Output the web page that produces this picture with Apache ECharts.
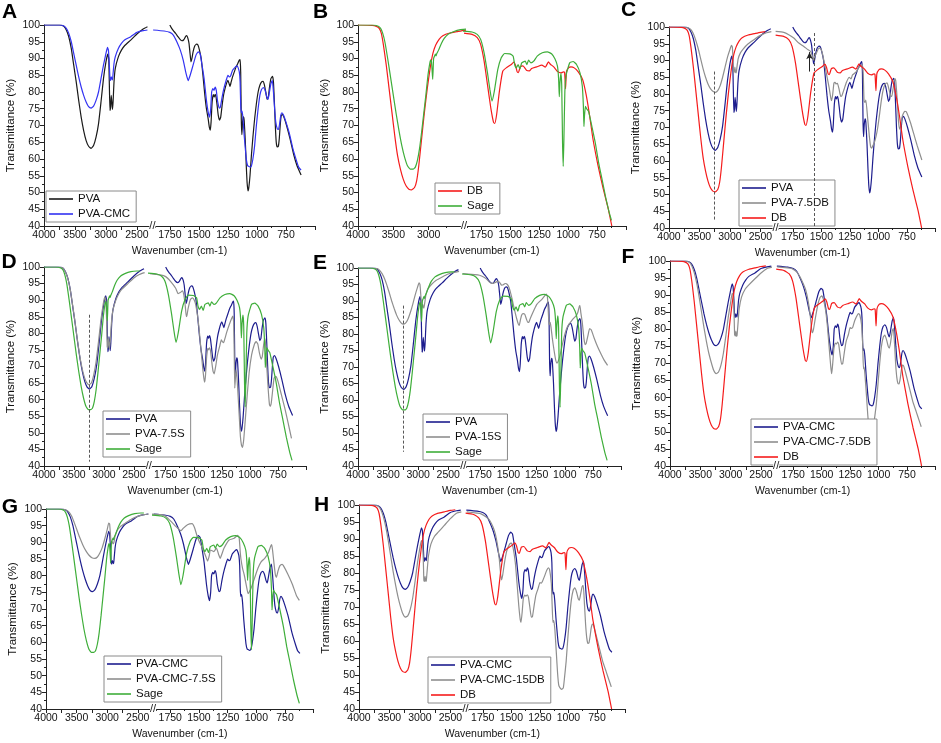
<!DOCTYPE html>
<html><head><meta charset="utf-8">
<script src="https://cdn.jsdelivr.net/npm/echarts@6/dist/echarts.min.js"></script>
<style>html,body{margin:0;padding:0;background:#fff}#c{width:941px;height:743px}</style>
</head><body><div id="c"></div>
<script>
// ---------------- DATA (wavenumber cm-1, transmittance %) ----------------
const yTicks = [40,45,50,55,60,65,70,75,80,85,90,95,100];
const leftTickLabels = [4000,3500,3000,2500];
const rightTickLabels = [1750,1500,1250,1000,750];

const PVA_hi = [[4000,100],[3750,100],[3680,99.6],[3640,98.5],[3600,96.5],[3560,93],[3520,88],[3480,83],[3440,77.5],[3400,72.5],[3360,68.5],[3320,65.5],[3280,63.8],[3240,63.2],[3200,64],[3160,66.5],[3120,70.5],[3080,77],[3040,84],[3000,89],[2970,91.3],[2955,90],[2945,82],[2935,74.5],[2925,75.5],[2915,79],[2905,77],[2895,74.8],[2885,77],[2870,83],[2850,87],[2800,90.5],[2750,92.5],[2700,93.8],[2600,95.5],[2500,97.3],[2400,98.8],[2330,99.5]];
const PVA_lo = [[1750,100],[1738,99.2],[1720,98.3],[1700,97.5],[1680,96.5],[1662,95.7],[1645,95.3],[1630,95.6],[1615,96.5],[1605,96.8],[1595,96.1],[1585,94.5],[1576,91.5],[1568,89],[1560,90],[1550,92],[1535,93.8],[1520,94.3],[1508,94],[1495,92.5],[1480,90],[1465,85],[1450,79.5],[1435,75],[1420,72],[1410,69.5],[1402,68.6],[1395,71],[1386,77],[1376,79.2],[1368,78.5],[1360,79.3],[1352,78.5],[1343,76],[1333,73],[1322,71.6],[1312,72.5],[1300,76],[1288,79],[1275,81],[1260,82.8],[1250,83.5],[1240,82.5],[1232,81.7],[1222,83],[1210,84.5],[1195,86],[1180,87.5],[1165,88.5],[1152,89.5],[1145,89.7],[1140,86],[1135,72],[1130,67.3],[1124,71],[1116,72.6],[1110,71.5],[1100,65],[1092,58],[1085,53],[1077,50.5],[1070,51.5],[1060,55],[1048,61],[1035,66.5],[1020,72],[1005,76.5],[990,80],[975,82],[960,83],[948,83.2],[935,82],[922,79.5],[912,77.8],[902,78.5],[892,81.5],[880,84],[866,84.7],[858,83],[850,77],[842,70],[834,65],[826,63.6],[816,63.8],[808,66],[800,70],[792,72.8],[782,73.3],[768,72.5],[745,70],[715,66],[685,61.5],[655,58],[620,55.2]];

const PVACMC_hi = [[4000,100],[3750,100],[3680,99.7],[3640,99],[3600,97.5],[3560,95],[3520,91.5],[3480,88],[3440,84.5],[3400,81.5],[3360,79],[3320,77],[3280,75.6],[3240,75.2],[3200,75.8],[3160,77.5],[3120,80],[3080,84],[3040,88],[3000,91.5],[2975,93.3],[2960,92.5],[2945,88],[2935,84],[2925,83.5],[2915,84.5],[2905,84],[2895,83.6],[2885,85.5],[2870,88.5],[2850,90.5],[2800,93],[2750,94.5],[2700,95.5],[2600,96.5],[2500,97.8],[2400,98.3],[2330,98.5]];
const PVACMC_lo = [[1894,98.5],[1800,98.2],[1750,97.8],[1720,97],[1690,95],[1660,92.5],[1635,89.5],[1610,85.5],[1592,83.4],[1575,85],[1550,88],[1525,91],[1506,92],[1490,91.5],[1475,88.5],[1455,84],[1435,77.5],[1420,74],[1408,72.5],[1398,75],[1390,80],[1380,81],[1370,80.5],[1360,81.5],[1350,80.5],[1340,77.5],[1325,75.2],[1315,75.5],[1300,78.5],[1285,81],[1265,83.5],[1250,85],[1238,84.5],[1227,84.8],[1210,86.5],[1190,87.3],[1175,87.8],[1165,87.5],[1152,86],[1145,83],[1140,76],[1135,73.8],[1128,74.3],[1120,72],[1110,67],[1100,63],[1090,59.5],[1080,58],[1070,57.8],[1058,57.6],[1048,57.9],[1035,60],[1020,64],[1005,70],[990,75],[975,79],[960,80.8],[945,81.3],[930,80.5],[915,78.5],[905,77.8],[895,79.5],[880,82.5],[868,83.5],[858,80],[848,75],[838,71],[825,69],[815,68.8],[805,70.5],[795,73],[785,73.8],[770,73],[750,71],[720,67.5],[690,63],[660,59.5],[640,57.5],[620,56.7]];

const DB_hi = [[4000,100],[3800,99.9],[3740,99.6],[3700,99],[3670,97.5],[3640,94],[3600,88],[3560,81],[3520,74],[3480,67],[3440,61],[3400,57],[3360,54],[3320,52],[3280,51],[3240,50.8],[3200,51.5],[3170,53.5],[3140,58],[3100,66],[3060,74],[3020,81],[2980,87],[2940,91.5],[2900,94],[2850,95.8],[2800,96.8],[2700,97.6],[2600,98],[2500,98.4],[2420,98.6]];
const DB_lo = [[1900,97.6],[1830,97.2],[1785,96.2],[1756,94.2],[1726,89.2],[1697,82.2],[1668,75.2],[1645,71],[1635,70.6],[1618,73.2],[1594,80.2],[1565,86.2],[1535,87.2],[1491,88.2],[1470,88.9],[1455,88],[1440,86],[1430,85.8],[1412,87.6],[1390,87.8],[1360,86.5],[1335,86.3],[1315,87],[1271,87.5],[1227,88],[1197,87.4],[1170,89],[1153,88.3],[1124,87.5],[1094,86.2],[1060,85.7],[1040,86],[1030,85.8],[1022,81],[1014,86],[995,87.3],[975,87.5],[947,87.2],[912,86],[874,83.7],[844,79.2],[815,73.2],[786,66.2],[742,58.2],[697,51.2],[653,45.2],[622,40]];

const Sage_hi = [[4000,100],[3800,100],[3720,99.7],[3680,99],[3650,97.5],[3620,95],[3580,90],[3540,84.5],[3500,79],[3460,73.5],[3420,68.5],[3380,64],[3340,60.5],[3300,58],[3260,57],[3220,57],[3190,57.5],[3160,59.5],[3130,63],[3100,68],[3070,73.5],[3040,79],[3010,85],[2985,88.5],[2970,89.6],[2960,89],[2950,86],[2943,83.8],[2937,86.5],[2930,90],[2915,90.8],[2905,91.3],[2895,90.8],[2885,91.5],[2860,92.5],[2820,94.5],[2780,96],[2720,97.3],[2650,98],[2550,98.6],[2450,98.8],[2400,98.8]];
const Sage_lo = [[1920,98.2],[1830,97.9],[1786,97.2],[1756,95.7],[1726,91.7],[1697,85.7],[1676,80.7],[1658,77.3],[1638,80.2],[1608,86.7],[1578,90.2],[1549,91.5],[1504,91.4],[1475,90.7],[1462,88.2],[1448,87.2],[1432,88.2],[1416,86.9],[1401,88.7],[1371,89.2],[1356,88.2],[1342,89.5],[1321,88.7],[1297,89.2],[1267,90.7],[1223,91.7],[1179,92],[1143,91.4],[1114,89.9],[1092,87.7],[1082,84],[1076,78.6],[1070,83],[1062,85.5],[1055,82],[1048,65],[1042,57.8],[1036,66],[1028,80],[1016,85.2],[986,88.7],[957,89.1],[927,88.2],[897,85.7],[877,81.7],[868,76],[863,69.7],[858,73],[850,75.7],[840,75],[823,74.2],[794,69.7],[764,64.7],[735,58.7],[705,53.7],[676,48.7],[646,44.2],[625,41.7]];

const PVA75DB_hi = [[4000,100],[3750,100],[3680,99.7],[3640,99.2],[3600,98],[3560,96],[3520,93.5],[3480,90.5],[3440,87.5],[3400,85],[3360,83],[3320,81.6],[3280,80.8],[3240,80.5],[3200,81],[3160,82.5],[3120,85],[3080,88],[3040,91],[3000,93.3],[2975,94.5],[2960,94],[2948,90],[2938,86.2],[2928,86.8],[2918,88],[2908,86.5],[2898,86.3],[2885,88],[2865,90.5],[2830,92.2],[2780,93.5],[2700,95],[2600,96.3],[2500,97.5],[2400,98.3],[2320,98.6]];
const PVA75DB_lo = [[1900,98.7],[1829,98.4],[1785,97.7],[1741,96.7],[1697,95.2],[1653,94.2],[1624,93.4],[1594,92.7],[1580,91.5],[1571,90.2],[1560,91],[1550,91.7],[1521,93.7],[1505,93.5],[1491,92.2],[1475,89.5],[1462,87.2],[1432,82],[1418,79],[1410,78],[1400,80],[1390,83.2],[1380,83.5],[1370,83],[1359,83.2],[1345,81.5],[1330,79.3],[1320,79.5],[1300,81.5],[1280,83.5],[1256,85],[1240,84.5],[1227,85.7],[1197,86.5],[1170,88],[1153,88.5],[1140,88.6],[1133,86],[1126,78],[1118,77.5],[1110,78.2],[1095,73],[1080,67.5],[1068,64.2],[1059,63.8],[1050,64.5],[1036,65.5],[1020,67.5],[1006,70],[990,74],[977,77.5],[960,81],[941,83],[924,83.3],[905,81],[893,79.5],[883,79.3],[870,82],[860,84.2],[853,84.5],[847,83.5],[835,78],[825,72],[815,69.5],[805,70.5],[790,73.5],[770,74.8],[756,74.7],[720,71.5],[690,68],[660,64.5],[620,60.3]];

const PVA75S_hi = [[4000,100],[3750,100],[3690,99.8],[3650,98.8],[3610,97],[3570,94],[3530,89.5],[3490,84.5],[3450,79],[3410,74],[3370,70],[3330,67],[3290,65.2],[3250,64.5],[3210,65],[3170,67.5],[3130,71.5],[3090,77.5],[3050,84],[3010,89],[2985,91],[2970,90],[2955,84],[2945,76],[2935,75.5],[2925,78.5],[2915,77],[2905,75.3],[2893,78],[2875,83],[2850,87],[2800,90],[2750,92],[2700,93.3],[2600,95],[2500,96.7],[2400,97.8],[2320,98.3]];
const PVA75S_lo = [[1890,98],[1800,97.6],[1750,97.1],[1705,95.6],[1661,93.6],[1640,92],[1620,92.3],[1601,92.8],[1588,91.5],[1575,88],[1566,85],[1560,85.5],[1550,87.5],[1530,90.2],[1512,90.7],[1495,90],[1482,88.5],[1465,85],[1453,81.5],[1438,76],[1423,70.5],[1410,66.5],[1402,65.3],[1395,67.5],[1385,73],[1375,75.5],[1368,75],[1360,75.6],[1350,74.5],[1340,71.5],[1328,68.5],[1318,67.8],[1305,70],[1289,73.5],[1270,76],[1255,78],[1245,77.5],[1234,77.2],[1222,78.5],[1205,80.5],[1185,82.5],[1165,84.3],[1152,85.2],[1145,83.5],[1140,75],[1135,63.5],[1130,66],[1124,69],[1115,66.5],[1105,61],[1095,55],[1085,49],[1075,46.2],[1066,45.6],[1055,48],[1040,54.5],[1025,61],[1006,68.4],[985,73.5],[962,76.5],[945,77.5],[930,76.8],[915,74],[900,72.2],[890,73],[878,76.5],[868,78.5],[860,76.5],[850,70],[837,63],[826,58.5],[819,58],[810,59],[800,62],[785,66.5],[770,67],[750,65.5],[720,61.5],[690,57.5],[660,53],[630,48.3]];

const PVA15S_hi = [[4000,100],[3750,100],[3680,99.8],[3640,99.3],[3600,98.3],[3560,96.8],[3520,94.8],[3480,92.5],[3440,90],[3400,87.8],[3360,85.8],[3320,84.3],[3280,83.3],[3250,83],[3210,83.3],[3170,84.5],[3130,86.5],[3090,89],[3050,91.8],[3010,94.2],[2985,95.5],[2970,95],[2955,91.5],[2945,88.5],[2935,88],[2925,89],[2915,88.3],[2905,87.8],[2890,89.5],[2870,92],[2840,93.6],[2780,95],[2700,96.3],[2600,97.3],[2500,98.2],[2400,98.7],[2320,99]];
const PVA15S_lo = [[1905,98.3],[1800,98],[1756,97.8],[1720,97.3],[1696,96.7],[1670,95.8],[1650,95.3],[1630,95.4],[1607,95.8],[1590,96],[1575,95.5],[1560,94.8],[1545,94.9],[1530,95.3],[1517,95.2],[1500,94.5],[1487,93.3],[1470,91],[1457,89],[1440,86.5],[1427,84.7],[1412,83],[1404,82.6],[1395,84],[1383,85.7],[1370,86.2],[1355,86],[1340,84.5],[1328,83.5],[1318,83.6],[1305,84.8],[1290,86],[1270,87.5],[1248,89],[1225,89.8],[1203,90.5],[1180,91.5],[1165,92.1],[1155,91.5],[1148,88],[1143,84.5],[1138,82.8],[1130,83.5],[1122,82],[1110,78.5],[1095,75],[1080,72],[1069,71.2],[1058,71.8],[1045,73.2],[1030,75.5],[1009,78.7],[985,81.5],[964,82.9],[940,84],[920,84.8],[900,85.5],[885,86.5],[872,88.3],[866,88.6],[858,86.5],[845,83.5],[830,78.5],[820,76.8],[810,77.2],[795,79.5],[780,81.6],[765,81.2],[740,78.8],[710,76.2],[680,74],[650,72],[621,70.5]];

const PVACMC75DB_hi = [[4000,100],[3750,100],[3680,99.6],[3640,98.5],[3600,96.5],[3560,93.5],[3520,89.5],[3480,85],[3440,80.5],[3400,76.5],[3360,73],[3320,70.3],[3280,68],[3240,67],[3200,67.5],[3160,69.5],[3120,73],[3080,78],[3040,83.5],[3000,88],[2975,90.5],[2960,90.3],[2945,85],[2935,78.5],[2925,78],[2915,79.5],[2905,78],[2895,78.2],[2880,81.5],[2860,86],[2820,89.5],[2760,91.8],[2700,93],[2600,94.8],[2500,96.5],[2400,97.8],[2320,98.2]];
const PVACMC75DB_lo = [[1890,98.3],[1800,98],[1765,97.8],[1720,96.8],[1691,95.4],[1660,93.2],[1640,91.5],[1620,88.5],[1602,84.5],[1590,80.5],[1583,79],[1572,80],[1557,83],[1535,87],[1515,89.3],[1500,89.8],[1485,88.8],[1465,85.5],[1450,81],[1435,75],[1420,69],[1412,67],[1403,70],[1392,74.5],[1380,76],[1370,75.7],[1360,76.3],[1350,75.5],[1338,72.5],[1325,69.8],[1315,70],[1300,73.5],[1285,76.5],[1265,78.5],[1250,80.5],[1238,80.3],[1228,80.5],[1210,82.5],[1190,84],[1175,84.6],[1165,84.2],[1150,81.5],[1140,76],[1133,68.5],[1127,69],[1118,66],[1105,60],[1095,55],[1085,51.5],[1075,50.7],[1060,50.5],[1045,50.8],[1035,54],[1020,58],[1005,64],[990,70],[975,75],[958,77.8],[945,78.3],[930,77],[915,75],[905,74.5],[895,76],[880,79.5],[870,80.3],[860,76],[850,70],[840,66],[830,64.2],[820,64],[810,65.5],[800,68],[790,69.5],[780,69.3],[760,67],[730,63],[700,59],[670,56],[640,53],[625,51.5]];

const PVACMC75S_hi = [[4000,100],[3750,100],[3670,99.7],[3620,99],[3580,97.8],[3540,96],[3500,94],[3450,91.5],[3400,89.3],[3350,87.5],[3300,86.2],[3250,85.4],[3200,85.2],[3160,85.6],[3120,86.8],[3080,88.5],[3040,91],[3000,93.8],[2975,95.8],[2960,95.5],[2945,92],[2935,89.8],[2920,90.3],[2905,89.5],[2890,90],[2870,92],[2840,93.5],[2780,94.8],[2700,95.8],[2600,97],[2500,97.8],[2400,98.3],[2320,98.5]];
const PVACMC75S_lo = [[1920,98.5],[1830,98.3],[1786,97.7],[1741,96.2],[1700,94.7],[1670,93.8],[1655,93.5],[1638,94.2],[1600,95.3],[1560,95.6],[1540,94.5],[1519,92.2],[1495,90],[1475,88.7],[1445,86.2],[1424,84.4],[1410,86],[1401,87.7],[1385,87.5],[1371,87.2],[1347,88.2],[1327,86.2],[1315,85.2],[1300,86.5],[1282,88.2],[1238,90.7],[1193,91.2],[1164,92.1],[1150,91.5],[1140,87],[1134,85],[1120,82.2],[1105,80.2],[1084,76.5],[1072,74.6],[1060,75.2],[1046,76.2],[1016,79.2],[986,82.2],[957,84.2],[927,85.2],[897,86.7],[875,88.8],[866,89.3],[858,87.5],[847,84],[835,80.5],[825,79.5],[810,81.5],[794,83],[775,83.4],[764,83],[726,80.5],[687,77.5],[650,74],[625,72.6]];

const PVACMC15DB_hi = [[4000,100],[3750,100],[3680,99.6],[3640,98.5],[3600,96.5],[3560,93.5],[3520,89.5],[3480,85],[3440,80.5],[3400,76.5],[3360,73],[3320,70.2],[3280,68],[3240,67],[3200,67.4],[3160,69.2],[3120,72.5],[3080,77.5],[3040,83],[3000,87.5],[2975,89.5],[2960,89.3],[2945,84],[2935,77.8],[2925,77.5],[2915,79],[2905,77.5],[2895,77.8],[2880,81],[2860,85],[2820,88.5],[2760,90.8],[2700,92],[2600,94],[2500,96],[2400,97.6],[2320,98]];
const PVACMC15DB_lo = [[1890,98],[1800,97.6],[1765,97.4],[1720,96.5],[1691,95.6],[1660,93.5],[1640,91.5],[1620,88],[1605,84],[1593,79.5],[1585,78],[1575,79.5],[1560,83],[1540,86.5],[1515,88.5],[1500,88.8],[1485,87.5],[1465,83],[1450,77],[1435,70.5],[1422,66.3],[1415,65.5],[1405,68.5],[1395,72.5],[1383,73.5],[1372,73.2],[1360,73.6],[1350,72.8],[1338,70],[1325,67],[1315,67.2],[1300,70.5],[1285,73.5],[1265,75.5],[1250,77.2],[1238,77],[1228,77.5],[1210,79],[1190,80.8],[1175,81.5],[1165,81],[1150,77],[1142,70],[1136,65.5],[1128,66],[1118,63],[1105,56],[1095,50.5],[1085,47],[1075,46.3],[1060,45.8],[1045,46.2],[1035,49],[1020,54],[1005,61],[990,67],[975,72],[958,75],[945,75.6],[930,74.5],[915,72.5],[905,72],[895,73.5],[880,76],[870,76.3],[860,71],[850,65],[840,61],[830,59.3],[820,59.5],[810,61.5],[800,64],[790,65],[780,64.7],[760,62],[730,58],[700,54],[670,51],[640,48],[625,46.5]];

// reference marks (values)
const markC_hi = [[3250,86.7],[3250,42]];
const markC_lo = [[1560,98.2],[1560,40.5]];
const arrowC = [[1603,86.7],[1603,92.5]];
const markD_hi = [[3250,85.6],[3250,41.3]];
const markE_hi = [[3250,88.6],[3250,44.3]];

// ---------------- STYLE / LAYOUT ----------------
const FONT = 'Liberation Sans, Arial, sans-serif';
const COL = {black:'#1a1a1a', blue:'#3333f2', navy:'#1d1d8e', gray:'#8f8f8f', red:'#f51c1c', green:'#3fae3a'};
const S = {
  PVA:[PVA_hi,PVA_lo], PVACMC:[PVACMC_hi,PVACMC_lo], DB:[DB_hi,DB_lo], Sage:[Sage_hi,Sage_lo],
  PVA75DB:[PVA75DB_hi,PVA75DB_lo], PVA75S:[PVA75S_hi,PVA75S_lo], PVA15S:[PVA15S_hi,PVA15S_lo],
  PVACMC75DB:[PVACMC75DB_hi,PVACMC75DB_lo], PVACMC75S:[PVACMC75S_hi,PVACMC75S_lo], PVACMC15DB:[PVACMC15DB_hi,PVACMC15DB_lo]
};
const panels = [
 {id:'A', x0:44, S:242, top:25, bottom:226, leftMin:2250, letter:[9.5,12.5], legend:[46,191],
  lines:[['PVA',S.PVA,COL.black],['PVA-CMC',S.PVACMC,COL.blue]]},
 {id:'B', x0:358, S:239, top:25, bottom:226, leftMin:2500, letter:[320.5,12.5], legend:[435,183],
  lines:[['DB',S.DB,COL.red],['Sage',S.Sage,COL.green]]},
 {id:'C', x0:669, S:238, top:27, bottom:228, leftMin:2250, letter:[628.5,10.5], legend:[739,180],
  lines:[['PVA',S.PVA,COL.navy],['PVA-7.5DB',S.PVA75DB,COL.gray],['DB',S.DB,COL.red]],
  markHi:markC_hi, markLo:markC_lo, arrow:arrowC},
 {id:'D', x0:44, S:234, top:267, bottom:466, leftMin:2250, letter:[9,262.5], legend:[103,411],
  lines:[['PVA',S.PVA,COL.navy],['PVA-7.5S',S.PVA75S,COL.gray],['Sage',S.Sage,COL.green]], markHi:markD_hi},
 {id:'E', x0:358, S:235, top:268, bottom:466, leftMin:2250, letter:[320,263], legend:[423,414],
  lines:[['PVA',S.PVA,COL.navy],['PVA-15S',S.PVA15S,COL.gray],['Sage',S.Sage,COL.green]], markHi:markE_hi},
 {id:'F', x0:670, S:237, top:261, bottom:466, leftMin:2250, letter:[628,257.5], legend:[751,419],
  lines:[['PVA-CMC',S.PVACMC,COL.navy],['PVA-CMC-7.5DB',S.PVACMC75DB,COL.gray],['DB',S.DB,COL.red]]},
 {id:'G', x0:46, S:239, top:509, bottom:709, leftMin:2250, letter:[10,507.5], legend:[104,656],
  lines:[['PVA-CMC',S.PVACMC,COL.navy],['PVA-CMC-7.5S',S.PVACMC75S,COL.gray],['Sage',S.Sage,COL.green]]},
 {id:'H', x0:359, S:238, top:505, bottom:709, leftMin:2250, letter:[321.5,505.5], legend:[428,657],
  lines:[['PVA-CMC',S.PVACMC,COL.navy],['PVA-CMC-15DB',S.PVACMC15DB,COL.gray],['DB',S.DB,COL.red]]}
];

const grid=[], xAxis=[], yAxis=[], series=[], legend=[], graphic=[];
const axisTxt = {fontFamily:FONT, fontSize:10.5, color:'#111'};
const lineAx = {show:true, lineStyle:{color:'#222', width:1}};

panels.forEach((p,i)=>{
  const fL = p.leftMin===2500 ? 0.4435 : 0.448;
  const wL = p.S*fL, wR = (p.S-wL)*1400/1150, h = p.bottom-p.top;
  const gL = 2*i, gR = 2*i+1;
  grid.push({left:p.x0, top:p.top, width:wL, height:h, outerBoundsMode:'none'});
  grid.push({left:p.x0+wL, top:p.top, width:wR, height:h, outerBoundsMode:'none'});
  const lmin = p.leftMin;
  xAxis.push({gridIndex:gL, type:'value', inverse:true, min:lmin, max:4000, interval: lmin===2500?500:250,
    axisLine:lineAx, axisTick:{show:true, length:4, lineStyle:{color:'#222'}},
    minorTick: lmin===2500 ? {show:true, splitNumber:2, length:2, lineStyle:{color:'#222'}} : {show:false},
    splitLine:{show:false},
    axisLabel:Object.assign({margin:4, formatter:v=> (leftTickLabels.indexOf(v)>=0 && v>lmin) ? String(v) : ''}, axisTxt)});
  xAxis.push({gridIndex:gR, type:'value', inverse:true, min:500, max:1900, interval:250,
    axisLine:lineAx, axisTick:{show:true, length:4, lineStyle:{color:'#222'}},
    minorTick:{show:true, splitNumber:2, length:2, lineStyle:{color:'#222'}}, splitLine:{show:false},
    axisLabel:Object.assign({margin:4, formatter:v=> rightTickLabels.indexOf(v)>=0 ? String(v) : ''}, axisTxt)});
  yAxis.push({gridIndex:gL, type:'value', min:yTicks[0], max:yTicks[yTicks.length-1], interval:5,
    name:'Transmittance (%)', nameLocation:'middle', nameGap:27,
    nameTextStyle:{fontFamily:FONT, fontSize:11.5, color:'#111'},
    axisLine:lineAx, axisTick:{show:true, length:4, lineStyle:{color:'#222'}},
    minorTick:{show:true, splitNumber:2, length:2, lineStyle:{color:'#222'}}, splitLine:{show:false},
    axisLabel:Object.assign({margin:4}, axisTxt)});
  yAxis.push({gridIndex:gR, type:'value', min:40, max:100, show:false, splitLine:{show:false}});

  const names=[];
  p.lines.forEach((ln,k)=>{
    const nm = ln[0]+'|'+p.id; names.push(nm);
    const base = {type:'line', name:nm, symbol:'none', showSymbol:false, smooth:0.15, color:ln[2],
      itemStyle:{color:ln[2]}, lineStyle:{color:ln[2], width:1.2}, animation:false, silent:true, clip:true};
    const sHi = Object.assign({}, base, {xAxisIndex:gL, yAxisIndex:gL, data:ln[1][0], z:2+k});
    const sLo = Object.assign({}, base, {xAxisIndex:gR, yAxisIndex:gR, data:ln[1][1], z:2+k});
    if(k===0 && p.markHi){
      sHi.markLine = {silent:true, symbol:['none','none'], label:{show:false},
        lineStyle:{type:[3,2], color:'#444', width:0.9},
        data:[[{coord:p.markHi[0]},{coord:p.markHi[1]}]]};
    }
    if(k===0 && p.markLo){
      const d = [[{coord:p.markLo[0]},{coord:p.markLo[1]}]];
      if(p.arrow) d.push([{coord:p.arrow[0], lineStyle:{type:'solid', color:'#222', width:1}},
                         {coord:p.arrow[1], symbol:'arrow', symbolSize:[5,7]}]);
      sLo.markLine = {silent:true, symbol:['none','none'], label:{show:false},
        lineStyle:{type:[3,2], color:'#444', width:0.9}, data:d};
    }
    series.push(sHi, sLo);
  });
  legend.push({left:p.legend[0], top:p.legend[1], orient:'vertical', data:names, selectedMode:false,
    formatter:n=>n.split('|')[0], icon:'rect', itemWidth:24, itemHeight:1.6, itemGap:3,
    padding:[2,6,2,3], borderColor:'#8a8a8a', borderWidth:1, backgroundColor:'#fff',
    textStyle:{fontFamily:FONT, fontSize:11.5, color:'#111'}});

  graphic.push({type:'text', x:p.letter[0], y:p.letter[1], style:{text:p.id, font:'bold 21px '+FONT, fill:'#000', textAlign:'center', textVerticalAlign:'middle'}});
  graphic.push({type:'text', x:p.x0+(wL+wR)/2, y:p.bottom+25, style:{text:'Wavenumber (cm-1)', font:'10.5px '+FONT, fill:'#111', textAlign:'center', textVerticalAlign:'middle'}});
  graphic.push({type:'text', x:p.x0+wL, y:p.bottom, z:100, style:{text:'//', font:'11px '+FONT, fill:'#222', textAlign:'center', textVerticalAlign:'middle', backgroundColor:'#fff', padding:[0,0]}});
});

const chart = echarts.init(document.getElementById('c'), null, {renderer:'canvas'});
chart.setOption({animation:false, backgroundColor:'#fff', grid, xAxis, yAxis, series, legend, graphic, tooltip:{show:false}});
</script></body></html>
